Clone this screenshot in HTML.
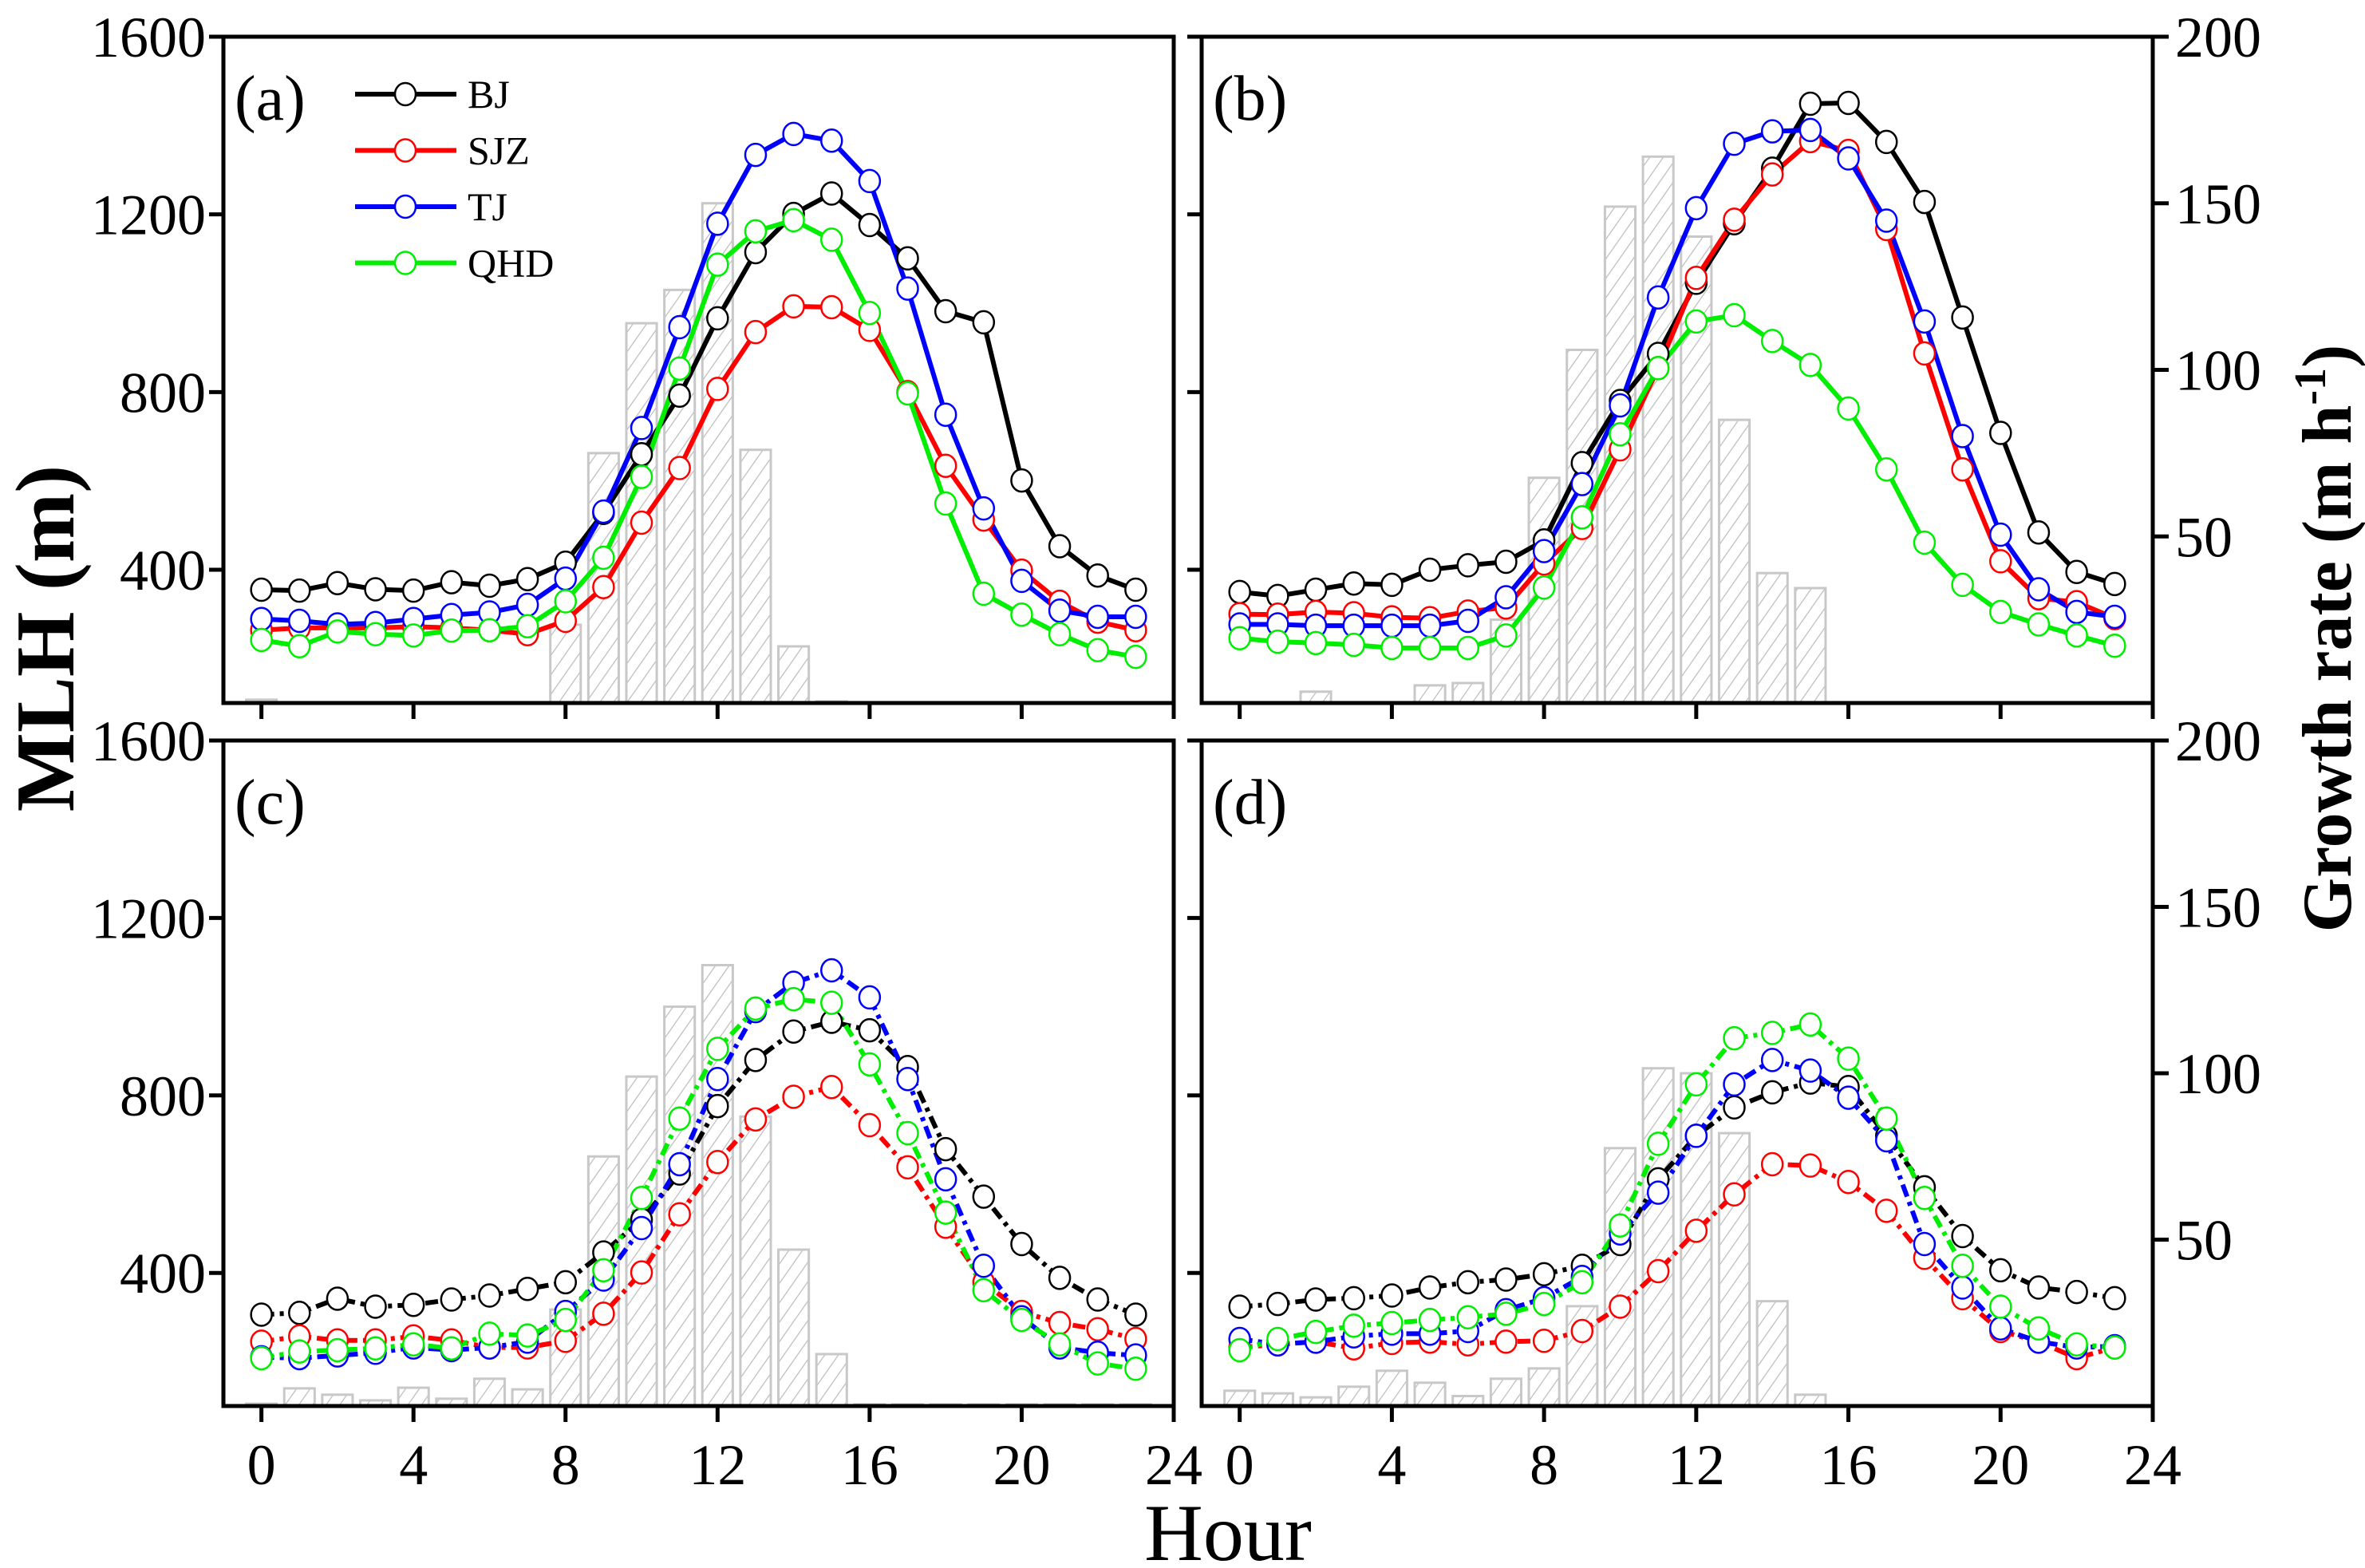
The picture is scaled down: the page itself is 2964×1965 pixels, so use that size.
<!DOCTYPE html>
<html><head><meta charset="utf-8"><style>
html,body{margin:0;padding:0;background:#fff;}
svg{display:block;}
text{font-family:"Liberation Serif",serif;}
</style></head><body>
<svg id="chart" width="2964" height="1965" viewBox="0 0 2964 1965" xmlns="http://www.w3.org/2000/svg">
<defs>
<pattern id="hatch" patternUnits="userSpaceOnUse" width="14" height="14" patternTransform="rotate(35)">
<line x1="0" y1="0" x2="0" y2="14" stroke="#bdbdbd" stroke-width="2.5"/>
</pattern>
</defs>
<g id="root"></g>
</svg>
<script>
// ---- data ----
const hours = [0,1,2,3,4,5,6,7,8,9,10,11,12,13,14,15,16,17,18,19,20,21,22,23];
const seriesNames = ['BJ','SJZ','TJ','QHD'];
const xTickLabels = [0,4,8,12,16,20,24];
const yTickLabels = [400,800,1200,1600];
const rTickLabels = [50,100,150,200];

const barsA = [1,0,0,0,0,0,0,0,23.5,75,114,124,150,76,17,0.5,0,0,0,0,0,0,0,0];
const barsB = [0,0,3.4,0,0,5.3,6,25,67.6,106,149,164,140,85,39,34.5,0,0,0,0,0,0,0,0];
const barsC = [0.7,5.3,3.4,1.7,5.5,2.2,8.2,5,29,75,99,120,132.5,87,47,15.6,0.5,0.5,0.5,0.5,0.5,0.5,0.5,0.5];
const barsD = [4.6,3.8,2.6,5.8,10.6,7,3,8.2,11.3,30,77.5,101.5,100,82,31.5,3.4,0,0,0,0,0,0,0,0];

const aBJ  = [355,353,370,356,353,372,364,379,416,528,660,792,966,1115,1201,1247,1176,1101,982,957,601,453,387,355];
const aSJZ = [264,269,269,269,272,269,264,255,285,361,506,629,807,935,993,991,940,800,634,513,398,328,283,264];
const aTJ  = [289,285,277,280,289,298,304,321,380,531,719,946,1179,1334,1381,1366,1275,1033,749,538,375,308,294,294];
const aQHD = [242,228,261,255,252,263,264,273,329,427,609,853,1087,1162,1187,1143,978,797,549,346,299,255,219,204];

const bBJ  = [350,341,355,369,366,400,410,418,466,640,780,886,1046,1180,1303,1449,1451,1363,1228,968,708,484,395,368];
const bSJZ = [300,299,305,302,293,291,306,315,414,494,671,854,1057,1188,1290,1365,1343,1167,887,626,419,336,327,291];
const bTJ  = [277,277,274,274,274,274,285,338,442,593,770,1013,1214,1359,1387,1390,1326,1186,959,701,479,356,305,294];
const bQHD = [246,238,235,231,224,224,224,252,360,518,705,854,959,973,915,861,763,626,461,366,305,277,252,229];

const cBJ  = [306,310,342,324,328,340,349,364,379,446,520,624,776,880,944,966,947,864,679,572,465,389,340,306];
const cSJZ = [245,257,248,248,257,248,232,232,247,308,401,532,650,746,797,819,733,638,504,379,312,287,273,251];
const cTJ  = [210,208,214,220,232,226,232,245,312,385,501,645,837,990,1054,1082,1021,837,611,416,300,232,220,214];
const cQHD = [208,223,226,230,239,230,263,259,294,406,569,748,905,996,1017,1009,870,715,536,361,294,239,196,184];

const dBJ  = [324,330,340,343,349,367,379,385,397,416,465,611,709,773,807,829,819,709,593,483,406,367,357,343];
const dSJZ = [232,239,245,230,242,245,239,245,247,269,324,404,495,577,645,642,605,540,434,343,269,245,208,232];
const dTJ  = [251,239,245,257,263,263,269,316,343,391,489,581,709,825,880,856,795,699,465,367,275,245,232,235];
const dQHD = [226,251,267,281,287,294,300,308,330,379,507,691,825,929,941,960,883,748,569,416,324,275,239,232];

// ---- layout ----
const NS='http://www.w3.org/2000/svg';
const root=document.getElementById('root');
const colors=['#000000','#ff0000','#0000ff','#00ee00'];
function mk(tag,attrs,parent){const e=document.createElementNS(NS,tag);for(const k in attrs)e.setAttribute(k,attrs[k]);(parent||root).appendChild(e);return e;}

const panels=[
 {id:'a',x0:280,x1:1471,y0:46,y1:881,bars:barsA,lines:[aBJ,aSJZ,aTJ,aQHD],dash:null,leftLabels:true,rightAxis:false,xLabels:false},
 {id:'b',x0:1506,x1:2698,y0:46,y1:881,bars:barsB,lines:[bBJ,bSJZ,bTJ,bQHD],dash:null,leftLabels:false,rightAxis:true,xLabels:false},
 {id:'c',x0:280,x1:1471,y0:928,y1:1762,bars:barsC,lines:[cBJ,cSJZ,cTJ,cQHD],dash:'16,7,5,7',leftLabels:true,rightAxis:false,xLabels:true},
 {id:'d',x0:1506,x1:2698,y0:928,y1:1762,bars:barsD,lines:[dBJ,dSJZ,dTJ,dQHD],dash:'16,7,5,7',leftLabels:false,rightAxis:true,xLabels:true}
];

panels.forEach(p=>{
  const g=mk('g',{});
  
  
  const xs=h=>p.x0+(h+1)/25*(p.x1-p.x0);
  const ys=v=>p.y1-(v-100)/1500*(p.y1-p.y0);
  const yr=v=>p.y1-v/200*(p.y1-p.y0);
  const bw=0.8/25*(p.x1-p.x0);
  p.bars.forEach((v,i)=>{
    if(v<=0)return;
    const r=mk('rect',{x:xs(hours[i])-bw/2,y:yr(v),width:bw,height:p.y1-yr(v),fill:'url(#hatch)',stroke:'#c8c8c8','stroke-width':3},g);
    
    
  });
  p.lines.forEach((arr,si)=>{
    const pts=arr.map((v,i)=>xs(hours[i])+','+ys(v)).join(' ');
    const attrs={points:pts,fill:'none',stroke:colors[si],'stroke-width':6,'stroke-linejoin':'round'};
    if(p.dash)attrs['stroke-dasharray']=p.dash;
    const pl=mk('polyline',attrs,g);
    
    
  });
  p.lines.forEach((arr,si)=>{
    arr.forEach((v,i)=>{
      const c=mk('ellipse',{cx:xs(hours[i]),cy:ys(v),rx:13,ry:14,fill:'#fff',stroke:colors[si],'stroke-width':2.5},g);
      
      
    });
  });
  const fr=mk('rect',{x:p.x0,y:p.y0,width:p.x1-p.x0,height:p.y1-p.y0,fill:'none',stroke:'#000','stroke-width':5},g);
  
  
  xTickLabels.forEach(t=>{
    const x=xs(t);
    mk('line',{x1:x,y1:p.y1,x2:x,y2:p.y1+20,stroke:'#000','stroke-width':5},g);
    if(p.xLabels){
      const tx=mk('text',{x:x,y:p.y1+98,'text-anchor':'middle','font-size':72},g);
      tx.textContent=t;
      
      
    }
  });
  yTickLabels.forEach(t=>{
    const y=ys(t);
    mk('line',{x1:p.x0-18,y1:y,x2:p.x0,y2:y,stroke:'#000','stroke-width':5},g);
    if(p.leftLabels){
      const tx=mk('text',{x:p.x0-22,y:y+25,'text-anchor':'end','font-size':72},g);
      tx.textContent=t;
      
      
    }
  });
  if(p.rightAxis){
    rTickLabels.forEach(t=>{
      const y=yr(t);
      mk('line',{x1:p.x1,y1:y,x2:p.x1+20,y2:y,stroke:'#000','stroke-width':5},g);
      const tx=mk('text',{x:p.x1+28,y:y+25,'font-size':72},g);
      tx.textContent=t;
      
      
    });
  }
  const lab=mk('text',{x:p.x0+14,y:p.y0+104,'font-size':80},g);
  lab.textContent='('+p.id+')';
  
  
});

const lg=mk('g',{});


seriesNames.forEach((n,i)=>{
  const y=118+i*70.5;
  const e=mk('g',{},lg);
  
  
  mk('line',{x1:445,y1:y,x2:572,y2:y,stroke:colors[i],'stroke-width':6},e);
  mk('ellipse',{cx:508,cy:y,rx:13,ry:14,fill:'#fff',stroke:colors[i],'stroke-width':2.5},e);
  const t=mk('text',{x:586,y:y+17,'font-size':50},e);
  t.textContent=n;
});

const yt=mk('text',{x:0,y:0,'font-size':105,'font-weight':'bold','text-anchor':'middle',transform:'translate(92,800) rotate(-90)'});
yt.textContent='MLH (m)';


const rt=mk('text',{x:0,y:0,'font-size':88,'font-weight':'bold','text-anchor':'middle',transform:'translate(2946,800) rotate(-90)'});
rt.innerHTML='Growth rate (m h<tspan dy="-32" font-size="56">-1</tspan><tspan dy="32">)</tspan>';


const xt=mk('text',{x:1539,y:1955,'font-size':102,'text-anchor':'middle'});
xt.textContent='Hour';


</script>
</body></html>
